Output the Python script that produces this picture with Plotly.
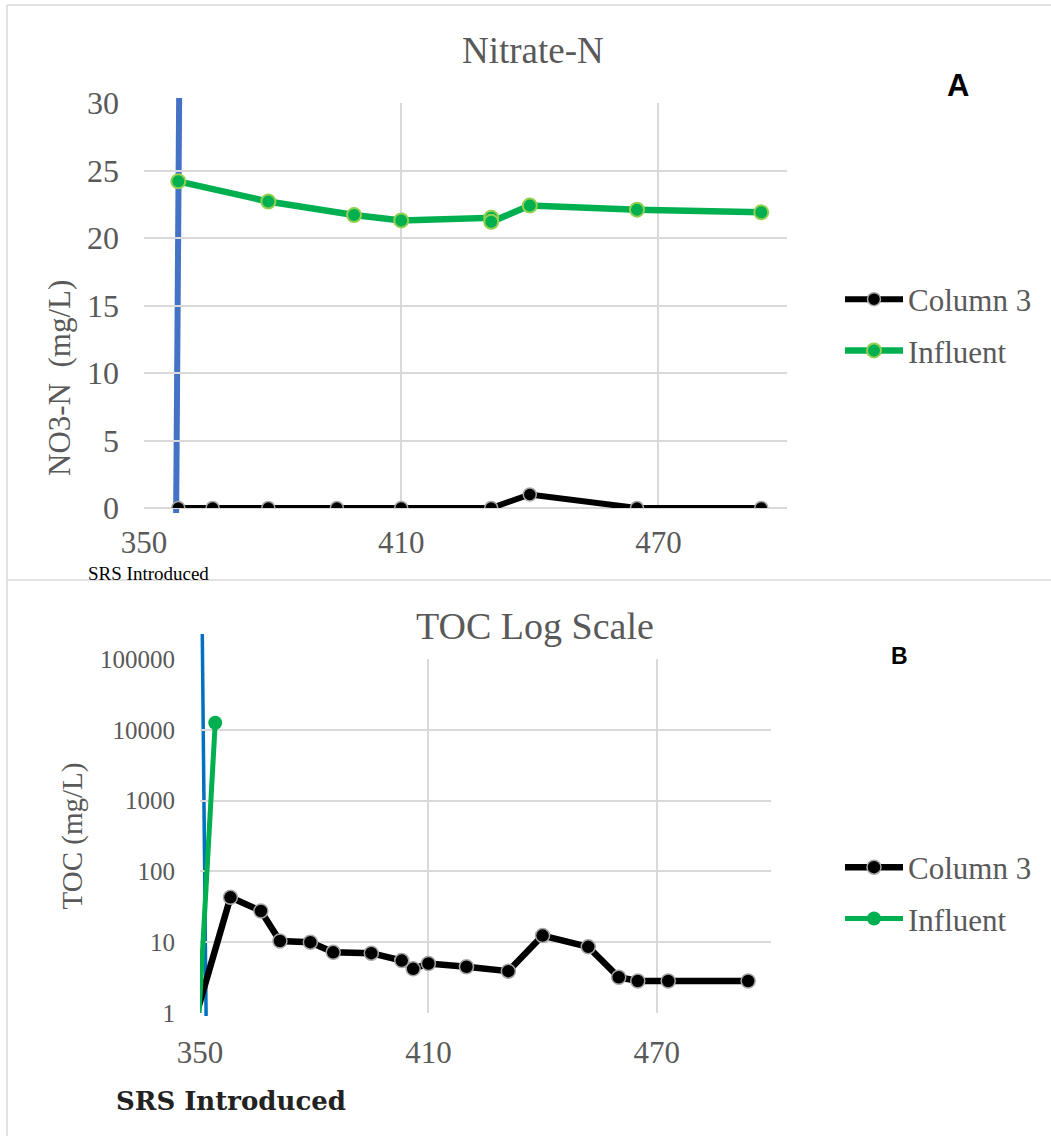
import plotly.graph_objects as go

# ---------------- data ----------------
# Panel A: Nitrate-N
col3_day_a = [358, 366, 379, 395, 410, 431, 440, 465, 494]
col3_no3 = [0, 0, 0, 0, 0, 0, 1.0, 0, 0]
infl_day_a = [358, 379, 399, 410, 431, 431, 440, 465, 494]
infl_no3 = [24.2, 22.7, 21.7, 21.3, 21.5, 21.2, 22.4, 22.1, 21.9]

# Panel B: TOC (log)
col3_day_b = [347, 358, 366, 371, 379, 385, 395, 403, 406, 410, 420, 431, 440, 452, 460, 465, 473, 494]
col3_toc = [0.4, 43, 27.6, 10.4, 10, 7.2, 7.0, 5.5, 4.2, 5.0, 4.5, 3.9, 12.4, 8.6, 3.2, 2.83, 2.83, 2.83]
infl_day_b = [348, 354]
infl_toc = [0.02, 12600]

# "SRS Introduced" marker line (day at bottom, day at top)
srs_a = [357.5, 358.2]
srs_b = [351.6, 350.6]

x_ticks = [350, 410, 470]
toc_ticks = [1, 10, 100, 1000, 10000, 100000]
toc_ticktext = ["1", "10", "100", "1000", "10000", "100000"]

# ---------------- layout helpers ----------------
W, H = 1051, 1136
def px(x):
    return x / W
def py(y):
    return 1 - y / H

SERIF = "Liberation Serif"
GRAY = "#595959"
GRID = "#D9D9D9"
GREEN = "#00B050"

fig = go.Figure()

fig.add_trace(go.Scatter(
    x=col3_day_a, y=col3_no3, name="Column 3", mode="lines+markers",
    line=dict(color="black", width=6),
    marker=dict(size=13, color="black", line=dict(color="#A6A6A6", width=1.5)),
    xaxis="x", yaxis="y", legend="legend", legendgroup="a1"))
fig.add_trace(go.Scatter(
    x=infl_day_a, y=infl_no3, name="Influent", mode="lines+markers",
    line=dict(color=GREEN, width=6.5),
    marker=dict(size=14, color=GREEN, line=dict(color="#92D050", width=2)),
    xaxis="x", yaxis="y", legend="legend", legendgroup="a2"))

fig.add_trace(go.Scatter(
    x=col3_day_b, y=col3_toc, name="Column 3", mode="lines+markers",
    line=dict(color="black", width=6.5),
    marker=dict(size=14, color="black", line=dict(color="#A6A6A6", width=1.5)),
    xaxis="x2", yaxis="y2", legend="legend2", legendgroup="b1"))
fig.add_trace(go.Scatter(
    x=infl_day_b, y=infl_toc, name="Influent", mode="lines+markers",
    line=dict(color=GREEN, width=5),
    marker=dict(size=14, color=GREEN),
    xaxis="x2", yaxis="y2", legend="legend2", legendgroup="b2"))

xcommon = dict(range=[350, 500], tickvals=x_ticks, showgrid=True, gridcolor=GRID,
               gridwidth=1.5, zeroline=False, showline=False, ticks="", automargin=False,
               tickfont=dict(family=SERIF, size=31, color=GRAY))

fig.update_layout(
    template="none",
    width=W, height=H,
    margin=dict(l=0, r=0, t=0, b=0, pad=0, autoexpand=False),
    paper_bgcolor="white", plot_bgcolor="white",
    xaxis=dict(domain=[px(144), px(787)], anchor="y", ticklabelstandoff=13, **xcommon),
    yaxis=dict(domain=[py(508), py(103)], anchor="x", range=[0, 30], dtick=5,
               showgrid=True, gridcolor=GRID, gridwidth=1.5, zeroline=True,
               zerolinecolor=GRID, zerolinewidth=1.5, ticks="", automargin=False,
               showline=False,
               tickfont=dict(family=SERIF, size=32, color=GRAY), ticklabelstandoff=24),
    xaxis2=dict(domain=[px(200), px(771)], anchor="y2", ticklabelstandoff=18, **xcommon),
    yaxis2=dict(domain=[py(1013), py(659)], anchor="x2", type="log", range=[0, 5],
                tickvals=toc_ticks, ticktext=toc_ticktext, automargin=False,
                showgrid=True, gridcolor=GRID, gridwidth=1.5, zeroline=False, ticks="",
                showline=False,
                tickfont=dict(family=SERIF, size=25, color=GRAY), ticklabelstandoff=24,
                title=dict(text="TOC (mg/L)", font=dict(family=SERIF, size=29, color=GRAY),
                           standoff=8)),
    legend=dict(x=px(840), y=py(325), xanchor="left", yanchor="middle",
                font=dict(family=SERIF, size=31, color=GRAY), itemwidth=58,
                tracegroupgap=8, bgcolor="rgba(0,0,0,0)"),
    legend2=dict(x=px(840), y=py(893), xanchor="left", yanchor="middle",
                 font=dict(family=SERIF, size=31, color=GRAY), itemwidth=58,
                 tracegroupgap=8, bgcolor="rgba(0,0,0,0)"),
    showlegend=True,
)

def note(text, x, y, size, color=GRAY, family=SERIF, angle=0, xanchor="center"):
    return dict(text=text, x=px(x), y=py(y), xref="paper", yref="paper",
                xanchor=xanchor, yanchor="middle", textangle=angle,
                showarrow=False, font=dict(family=family, size=size, color=color))

annotations = [
    note("Nitrate-N", 533, 50, 37),
    note("TOC Log Scale", 535, 626, 38),
    note("NO3-N  (mg/L)", 59, 378, 31, angle=-90),
    note("SRS Introduced", 86, 573, 19, color="black", xanchor="left"),
    note("<b>SRS Introduced</b>", 114, 1101, 26, color="#222222",
         family="DejaVu Serif", xanchor="left"),
    note("<b>A</b>", 958, 86, 31, color="black", family="Liberation Sans"),
    note("<b>B</b>", 899, 656, 23, color="black", family="Liberation Sans"),
]
fig.update_layout(annotations=annotations)

shapes = [
    # panel frames
    dict(type="line", xref="paper", yref="paper", x0=px(7), x1=1, y0=py(5), y1=py(5),
         line=dict(color=GRID, width=1.5)),
    dict(type="line", xref="paper", yref="paper", x0=px(7), x1=1, y0=py(580), y1=py(580),
         line=dict(color=GRID, width=1.5)),
    dict(type="line", xref="paper", yref="paper", x0=px(7), x1=px(7), y0=py(5), y1=0,
         line=dict(color=GRID, width=1.5)),
    # SRS introduced lines
    dict(type="line", xref="x", yref="paper", x0=srs_a[0], x1=srs_a[1], y0=py(513), y1=py(98),
         line=dict(color="#4472C4", width=6), layer="below"),
    dict(type="line", xref="x2", yref="paper", x0=srs_b[0], x1=srs_b[1], y0=py(1016), y1=py(634),
         line=dict(color="#0070C0", width=3.5), layer="below"),
]
fig.update_layout(shapes=shapes)

fig.write_html("out.html")
